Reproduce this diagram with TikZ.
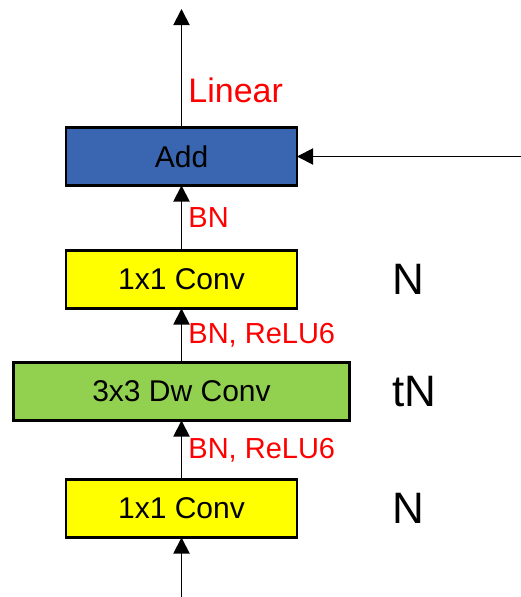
\documentclass[tikz,border=0pt]{standalone}
\usepackage{fontspec}
\setmainfont{Liberation Sans}
\usetikzlibrary{positioning,arrows.meta}

\definecolor{addblue}{HTML}{3A66B1}
\definecolor{dwgreen}{HTML}{92D050}
\definecolor{convyellow}{HTML}{FFFF00}

\tikzset{
    layer/.style = {draw, line width=2.2pt, minimum height=58pt, inner sep=0pt, outer sep=0pt, font=\fontsize{30}{34}\selectfont},
    act/.style = {right, red, font=\fontsize{29}{32}\selectfont, inner sep=0pt, xshift=6pt},
    width label/.style = {anchor=west, inner sep=0pt, font=\fontsize{44}{48}\selectfont},
    flow/.style = {line width=1.9pt, -{Triangle[length=16pt,width=16pt]}}
}

\begin{document}
\begin{tikzpicture}
\useasboundingbox (0,0) rectangle (521pt,-597pt);

% bottleneck block, input at the bottom
\node [layer, fill=convyellow, minimum width=231pt] (expand) at (181.5pt,-508.5pt) {1x1 Conv};
\node [layer, fill=dwgreen, minimum width=336pt, above=59pt of expand] (dwconv) {3x3 Dw Conv};
\node [layer, fill=convyellow, minimum width=231pt, above=54pt of dwconv] (project) {1x1 Conv};
\node [layer, fill=addblue, minimum width=231pt, above=65pt of project] (add) {Add};

\coordinate (src) at (181.5pt,-597pt);
\coordinate (out) at (181.5pt,-9pt);
\coordinate (skip) at (add -| 521pt,0);
\coordinate (col) at (392pt,0);

\draw [flow] (src) -- (expand);
\draw [flow] (expand) -- (dwconv) node [act, midway] {BN, ReLU6};
\draw [flow] (dwconv) -- (project) node [act, midway] {BN, ReLU6};
\draw [flow] (project) -- (add) node [act, midway] {BN};
\draw [flow] (add) -- (out) node [act, pos=0.31, font=\fontsize{34}{38}\selectfont] {Linear};
\draw [flow] (skip) -- (add);

% channel counts
\node [width label] (nexp) at (expand -| col) {N};
\node [width label] (ndw) at (dwconv -| col) {tN};
\node [width label] (nproj) at (project -| col) {N};

\end{tikzpicture}
\end{document}
